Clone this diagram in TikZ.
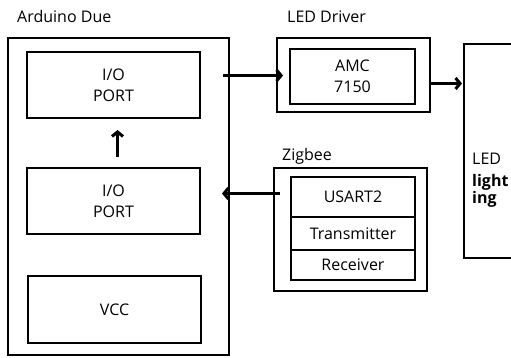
\documentclass[tikz,border=0pt]{standalone}
\usepackage{fontspec}
\setmainfont{Open Sans}
\usetikzlibrary{positioning, arrows.meta}

\begin{document}
\begin{tikzpicture}[x=1pt, y=-1pt, >={Straight Barb[length=4.5pt, width=11pt]},
    box/.style={draw, rectangle, line width=2.8pt, inner sep=0pt, outer sep=0pt, align=center, font=\fontsize{16}{21}\selectfont},
    title/.style={anchor=west, inner sep=0pt, font=\fontsize{16}{20}\selectfont},
    conn/.style={->, line width=3pt}]
    \useasboundingbox (0,0) rectangle (511,358);

    % Nodes
    % Arduino Due board
    \node[box, minimum width=221pt, minimum height=317pt] (ard) at (118.5,196.5) {};
    \node[title] (ardlbl) at (17,17) {Arduino Due};
    \node[box, minimum width=173pt, minimum height=66pt] (io1) at (113.5,85) {I/O\\PORT};
    \node[box, minimum width=173pt, minimum height=66pt] (io2) at (113.5,201) {I/O\\PORT};
    \node[box, minimum width=173pt, minimum height=67pt] (vcc) at (114.5,309.5) {VCC};

    % LED driver
    \node[box, minimum width=153pt, minimum height=74pt] (drv) at (353.5,75) {};
    \node[title] (drvlbl) at (287,17) {LED Driver};
    \node[box, minimum width=125pt, minimum height=55pt] (amc) at (352.5,76.5) {AMC\\7150};

    % Zigbee module
    \node[box, minimum width=153pt, minimum height=123pt] (zig) at (350.5,229.5) {};
    \node[title] (ziglbl) at (282,156) {Zigbee};
    \node[box, minimum width=124pt, minimum height=40pt] (usart) at (353,197) {USART2};
    \node[box, minimum width=124pt, minimum height=33pt, below=0pt of usart] (trans) {Transmitter};
    \node[box, minimum width=124pt, minimum height=30pt, below=0pt of trans] (recv) {Receiver};

    % LED lighting
    \node[box, minimum width=80pt, minimum height=214pt, anchor=north west] (led) at (464,44) {};
    \node[title] (ledtxt) at (472,159) {LED};
    \node[inner sep=0pt, align=left, font=\fontsize{16}{13}\selectfont\bfseries,
          below right=9pt and 0pt of ledtxt.south west] (lighttxt) {light\\ing};

    % Connections
    \draw[conn, shorten <=11pt, shorten >=12pt] ([xshift=4pt]io2.north) -- ([xshift=4pt]io1.south);
    \draw[conn, shorten <=-6pt, shorten >=-6pt] ([yshift=-0.5pt]ard.east |- drv) -- ([yshift=-0.5pt]drv.west);
    \draw[conn, shorten >=2pt] ([yshift=-8.5pt]drv.east) -- ([yshift=-8.5pt]drv.east -| led.west);
    \draw[conn, shorten <=-6pt, shorten >=-7pt] ([yshift=3.5pt]zig.west |- usart) -- ([yshift=3.5pt]ard.east |- usart);

\end{tikzpicture}
\end{document}
